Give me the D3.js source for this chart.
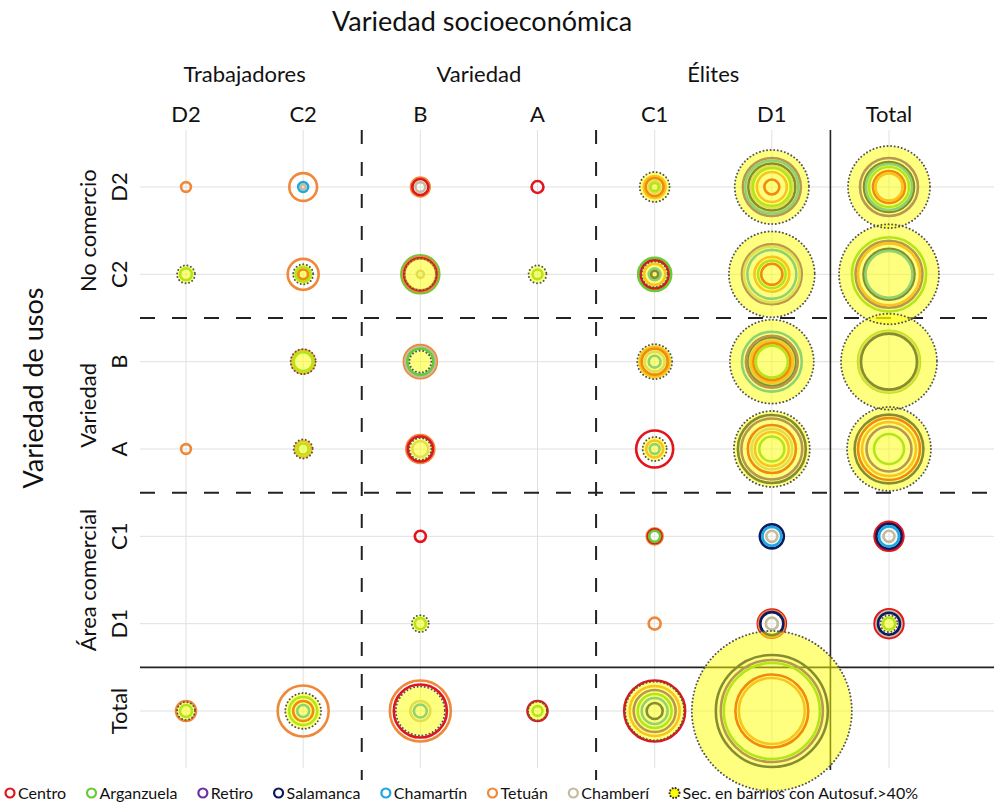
<!DOCTYPE html>
<html><head><meta charset="utf-8">
<script src="https://cdn.jsdelivr.net/npm/d3@7"></script>
<style>
body{margin:0;background:#fff}
svg{display:block}
text{font-family:Lato,"Open Sans",sans-serif;fill:#111}
</style>
</head><body><svg id="chart" width="994" height="804"></svg>
<script>
// ---------- categories & labels ----------
const colCats = ["D2","C2","B","A","C1","D1","Total"];
const rowCats = ["D2","C2","B","A","C1","D1","Total"];
const colGroupLabels = ["Trabajadores","Variedad","Élites"];
const colGroupMembers = [["D2","C2"],["B","A"],["C1","D1"]];
const rowGroupLabels = ["No comercio","Variedad","Área comercial"];
const rowGroupMembers = [["D2","C2"],["B","A"],["C1","D1"]];
const xTitle = "Variedad socioeconómica";
const yTitle = "Variedad de usos";

const districts = ["Centro","Arganzuela","Retiro","Salamanca","Chamartín","Tetuán","Chamberí"];
const districtColors = ["#e3151c","#66cc33","#7030a0","#0d1b5e","#1ea7e1","#f0883a","#c4bc9c"];
const autosufLabel = "Sec. en barrios con Autosuf.>40%";

// ---------- values: rows (D2,C2,B,A,C1,D1,Total) x cols (D2,C2,B,A,C1,D1,Total) ----------
const N = null;
const centro = [
  [N,N,4,2.2,5,3.5,16],
  [N,1.5,16,N,12.25,7,N],
  [N,N,N,N,10.5,21.4,N],
  [N,N,9.8,N,21.4,36,60],
  [N,N,1.9,N,3,N,13],
  [N,N,N,N,N,12.25,13],
  [N,6.25,44,6.25,58,83,N]
];
const arganzuela = [
  [N,N,N,N,1,22.5,25],
  [2.2,3.5,22.5,1.5,17,12,86],
  [N,5.6,10.5,N,N,16,60],
  [N,1.9,N,N,N,9.8,14],
  [N,N,N,N,1.9,N,N],
  [N,N,1.9,N,N,N,2.25],
  [2.25,12.25,N,1.5,18,144,N]
];
const retiro = [
  [N,N,N,N,N,52.5,52.5],
  [N,N,N,N,N,56,70],
  [N,N,N,N,N,42,N],
  [N,N,N,N,N,58,31.6],
  [N,N,N,N,N,N,N],
  [N,N,N,N,N,N,N],
  [N,N,N,N,27.5,162.5,N]
];
const salamanca = [
  [N,N,N,N,N,34.5,39],
  [N,N,N,N,0.8,N,40.6],
  [N,N,N,N,N,34.5,49],
  [N,N,N,N,N,72,74],
  [N,N,N,N,N,9,9.8],
  [N,N,N,N,N,8.3,7.5],
  [N,N,N,N,4,196,N]
];
const chamartin = [
  [N,1.5,N,N,N,44,33],
  [N,N,N,N,2.2,37.5,34.5],
  [N,N,N,N,2.2,56,N],
  [N,N,N,N,1.5,N,N],
  [N,N,N,N,N,5.6,6.25],
  [N,N,N,N,N,N,N],
  [N,2.25,2.6,N,10.5,N,N]
];
const tetuan = [
  [1.5,12,5.5,N,7.5,14,11.4],
  [N,15,19,N,7,19,60],
  [N,8.3,17,N,14,27.5,N],
  [1.5,4,12.25,N,4.5,18,45.5],
  [N,N,N,N,4,N,N],
  [N,N,N,N,2.25,10.5,N],
  [6.25,40.6,58,N,39,68,N]
];
const chamberi = [
  [N,0.4,1.5,N,2.2,27.5,N],
  [N,N,0.8,N,N,49,N],
  [N,N,14,N,6.25,30,56],
  [N,N,4,N,N,26,N],
  [N,N,N,N,N,1.9,1.9],
  [N,N,N,N,N,2.25,9.8],
  [N,N,6.25,N,N,N,N]
];
const autosuf = [
  [N,N,N,N,14,86,105],
  [5,6.25,16,5,10.5,115,156],
  [N,9.8,7.5,N,19,110,144],
  [N,5.6,7.5,N,9,90,110],
  [N,N,N,N,N,N,N],
  [N,N,4.5,N,N,N,4.5],
  [5,20,37.5,5.6,54,400,N]
];
const districtValues = [centro, arganzuela, retiro, salamanca, chamartin, tetuan, chamberi];

// ---------- drawing ----------
const svg = d3.select("#chart");
const x = d3.scalePoint().domain(colCats).range([186, 889]);
const y = d3.scalePoint().domain(rowCats).range([187, 711]);
const r = d3.scaleSqrt().domain([0, 400]).range([0, 80]);

const plotTop = 130, plotLeft = 140, plotRight = 994;

// gridlines
const grid = svg.append("g");
grid.selectAll("line.v").data(colCats).join("line")
  .attr("x1", d => x(d)).attr("x2", d => x(d))
  .attr("y1", plotTop).attr("y2", 768)
  .attr("stroke", "#e0e0e0").attr("stroke-width", 1);
grid.selectAll("line.h").data(rowCats).join("line")
  .attr("x1", plotLeft).attr("x2", plotRight)
  .attr("y1", d => y(d)).attr("y2", d => y(d))
  .attr("stroke", "#e0e0e0").attr("stroke-width", 1);

// separators
const sep = svg.append("g");
[["C2","B",true],["A","C1",true],["D1","Total",false]].forEach(([a,b,dashed]) => {
  const xm = (x(a) + x(b)) / 2;
  sep.append("line").attr("x1", xm).attr("x2", xm)
    .attr("y1", plotTop).attr("y2", dashed ? 780 : 770)
    .attr("stroke", "#222").attr("stroke-width", dashed ? 2 : 1.6)
    .attr("stroke-dasharray", dashed ? "14 18" : null);
  const ym = (y(a) + y(b)) / 2;
  sep.append("line").attr("x1", plotLeft).attr("x2", plotRight)
    .attr("y1", ym).attr("y2", ym)
    .attr("stroke", "#222").attr("stroke-width", dashed ? 2 : 1.6)
    .attr("stroke-dasharray", dashed ? "15 17" : null);
});

// titles
svg.append("text").attr("x", 482).attr("y", 31).attr("text-anchor", "middle")
  .style("font-size", "27px").text(xTitle);
svg.append("g").selectAll("text").data(colGroupLabels).join("text")
  .attr("x", (d,i) => d3.mean(colGroupMembers[i], c => x(c)))
  .attr("y", 82).attr("text-anchor", "middle").style("font-size", "22px").text(d => d);
svg.append("g").selectAll("text").data(colCats).join("text")
  .attr("x", d => x(d)).attr("y", 122).attr("text-anchor", "middle")
  .style("font-size", "22px").text(d => d);

svg.append("text").attr("transform", "translate(43,388) rotate(-90)")
  .attr("text-anchor", "middle").style("font-size", "27px").text(yTitle);
svg.append("g").selectAll("text").data(rowGroupLabels).join("text")
  .attr("transform", (d,i) => `translate(96,${d3.mean(rowGroupMembers[i], c => y(c))}) rotate(-90)`)
  .attr("text-anchor", "middle").style("font-size", "22px").text(d => d);
svg.append("g").selectAll("text").data(rowCats).join("text")
  .attr("transform", d => `translate(127,${y(d)}) rotate(-90)`)
  .attr("text-anchor", "middle").style("font-size", "22px").text(d => d);

// legend (laid out sequentially between x=10 and x=918)
const leg = svg.append("g");
const legItems = districts.map((d,i) => ({label: d, color: districtColors[i], auto: false}))
  .concat([{label: autosufLabel, auto: true}]);
const legGroups = legItems.map(it => {
  const g = leg.append("g");
  if (it.auto) {
    g.append("circle").attr("r", 5).attr("fill", "#ffff00").attr("stroke", "#333")
      .attr("stroke-width", 2.2).attr("stroke-dasharray", "0.01 3").attr("stroke-linecap", "round");
  } else {
    g.append("circle").attr("r", 4.5).attr("fill", "none").attr("stroke", it.color).attr("stroke-width", 2.2);
  }
  const t = g.append("text").attr("x", 8).attr("y", 5.5).style("font-size", "16px").text(it.label);
  return {g, w: 8 + t.node().getComputedTextLength()};
});
const legStart = 10, legEnd = 918;
const totalW = d3.sum(legGroups, d => d.w);
const gap = (legEnd - legStart - totalW) / (legGroups.length - 1);
let cursor = legStart;
legGroups.forEach(lg => {
  lg.g.attr("transform", `translate(${cursor},793)`);
  cursor += lg.w + gap;
});

// rings
const rings = [];
districtValues.forEach((mat, k) => {
  mat.forEach((row, i) => row.forEach((v, j) => {
    if (v != null) rings.push({row: rowCats[i], col: colCats[j], v, color: districtColors[k]});
  }));
});
rings.sort((a,b) => b.v - a.v);
svg.append("g").selectAll("circle").data(rings).join("circle")
  .attr("cx", d => x(d.col)).attr("cy", d => y(d.row)).attr("r", d => r(d.v))
  .attr("fill", "none").attr("stroke", d => d.color).attr("stroke-width", 2.6);

// autosuficiencia discs (semi-transparent yellow, dotted border)
const discs = [];
autosuf.forEach((row, i) => row.forEach((v, j) => {
  if (v != null) discs.push({row: rowCats[i], col: colCats[j], v});
}));
discs.sort((a,b) => b.v - a.v);
const dg = svg.append("g");
dg.selectAll("circle.fill").data(discs).join("circle")
  .attr("cx", d => x(d.col)).attr("cy", d => y(d.row)).attr("r", d => r(d.v))
  .attr("fill", "#ffff00").attr("fill-opacity", 0.5);
dg.selectAll("circle.brd").data(discs).join("circle")
  .attr("cx", d => x(d.col)).attr("cy", d => y(d.row)).attr("r", d => r(d.v))
  .attr("fill", "none").attr("stroke", "#555").attr("stroke-width", 2)
  .attr("stroke-dasharray", "0.01 3.6").attr("stroke-linecap", "round");
</script>
</body></html>
